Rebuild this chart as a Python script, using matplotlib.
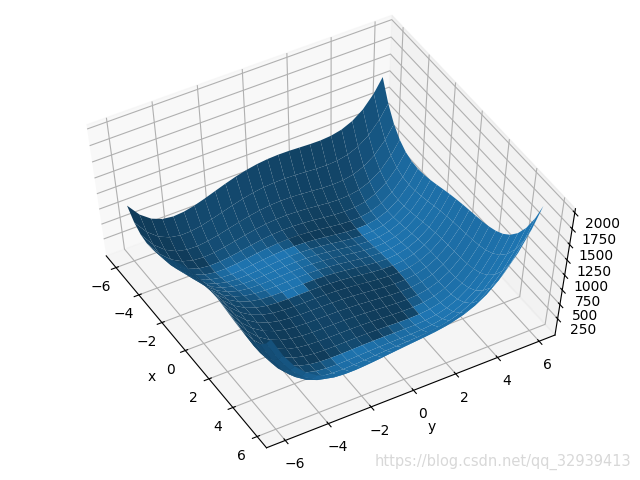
import numpy as np
import matplotlib
matplotlib.use("Agg")
import matplotlib.pyplot as plt
from matplotlib.colors import LightSource

x_values = [-6, -5.5, -5, -4.5, -4, -3.5, -3, -2.5, -2, -1.5, -1, -0.5, 0,
            0.5, 1, 1.5, 2, 2.5, 3, 3.5, 4, 4.5, 5, 5.5, 5.9]
y_values = list(x_values)
z_tick_values = [250, 500, 750, 1000, 1250, 1500, 1750, 2000]
# one row per x value, one column per y value
z_rows = [
    [890,678,544,473,450,463,500,552,610,668,720,763,794,813,820,818,810,802,800,813,850,923,1044,1228,1431],
    [728,504,359,278,245,248,276,320,370,420,465,502,527,540,542,536,524,512,507,518,553,624,744,928,1131],
    [640,405,250,158,116,110,130,165,208,251,290,320,340,348,346,335,320,305,298,306,340,410,530,713,916],
    [611,366,200,100,48,34,45,74,109,146,178,204,218,222,215,202,183,166,156,164,196,266,385,570,773],
    [626,371,196,86,26,4,8,29,58,89,116,136,146,146,136,119,98,79,68,74,106,176,296,481,686],
    [673,408,224,106,38,8,5,20,43,68,90,106,112,108,95,76,53,32,20,26,58,128,249,436,642],
    [740,466,274,147,72,35,26,34,52,72,90,101,104,97,82,60,36,14,2,7,40,111,234,422,631],
    [818,536,335,202,119,76,60,64,76,92,105,114,113,104,86,64,38,16,3,10,43,116,240,432,642],
    [898,608,400,259,170,121,100,98,106,118,128,133,130,119,100,76,50,28,16,23,58,133,260,454,667],
    [974,676,461,314,219,164,138,132,136,144,151,154,149,136,116,92,66,44,33,42,79,156,286,484,700],
    [1040,735,514,360,260,200,170,159,160,165,170,170,164,150,130,105,80,59,50,60,100,180,314,515,736],
    [1093,782,554,396,290,226,191,178,175,178,180,180,172,158,137,114,89,70,62,76,118,202,339,546,770],
    [1130,813,580,416,306,238,200,183,178,179,180,178,170,156,136,113,90,73,68,84,130,218,360,571,799],
    [1151,828,590,422,308,236,195,176,169,168,168,166,158,144,125,104,83,68,66,86,136,228,375,592,825],
    [1156,828,586,413,296,221,178,156,148,146,146,143,136,123,106,86,68,56,58,81,136,233,386,608,847],
    [1148,816,569,394,273,196,150,128,118,116,115,114,107,96,80,64,48,40,45,74,133,236,394,624,867],
    [1130,794,544,365,242,163,116,92,82,80,80,79,74,65,52,38,26,22,32,65,130,239,404,640,890],
    [1108,768,515,334,209,128,80,56,46,44,45,46,43,36,26,16,8,8,23,62,133,248,420,664,920],
    [1088,745,490,306,180,98,50,25,16,15,18,20,20,16,10,3,0,5,26,70,148,270,450,701,964],
    [1079,734,476,292,164,82,33,10,1,2,6,12,14,14,11,10,11,22,48,100,184,314,501,762,1031],
    [1090,743,484,298,170,88,40,17,10,13,20,28,34,38,40,43,50,67,100,158,250,388,584,853,1131],
    [1133,784,524,338,210,128,81,60,55,60,70,82,92,100,107,116,129,152,192,258,358,504,709,988,1274],
    [1220,870,610,423,296,215,170,150,148,156,170,185,200,213,226,240,260,290,338,411,520,675,890,1178,1473],
    [1366,1016,755,570,443,364,320,304,304,316,333,354,373,392,410,432,458,496,551,634,751,916,1140,1440,1743],
    [1535,1185,925,740,614,536,495,481,484,499,520,544,568,592,616,642,674,719,781,870,995,1168,1401,1709,2019],
]

fig = plt.figure(figsize=(6.4, 4.8), dpi=100)
ax = fig.add_axes([0, 0, 1, 1], projection="3d")


def fill_figure(position=None):
    ax._set_position(ax.get_position(original=True), "active")


ax.apply_aspect = fill_figure
ax.set_box_aspect((1, 1, 1), zoom=0.9)

X, Y = np.meshgrid(x_values, y_values, indexing="ij")
Z = np.array(z_rows, dtype=float)
surf = ax.plot_surface(X, Y, Z, rstride=1, cstride=1, color="C0", linewidth=0,
                       lightsource=LightSource(azdeg=45, altdeg=-19.47))
# lift the dark end of the shading towards the base colour
base = np.array(matplotlib.colors.to_rgba("C0"))
shaded = np.array(surf._facecolor3d)
surf.set_facecolor(base - (base - shaded) * 0.74)
ax.view_init(60, -30)
ax.set_xlabel("x")
ax.set_ylabel("y")
ax.set_zticks(z_tick_values)
fig.text(0.987, 0.038, "https://blog.csdn.net/qq_32939413", ha="right", va="center",
         color="#d8d8d8", fontsize=10.5)
fig.savefig("out.png", dpi=100)
